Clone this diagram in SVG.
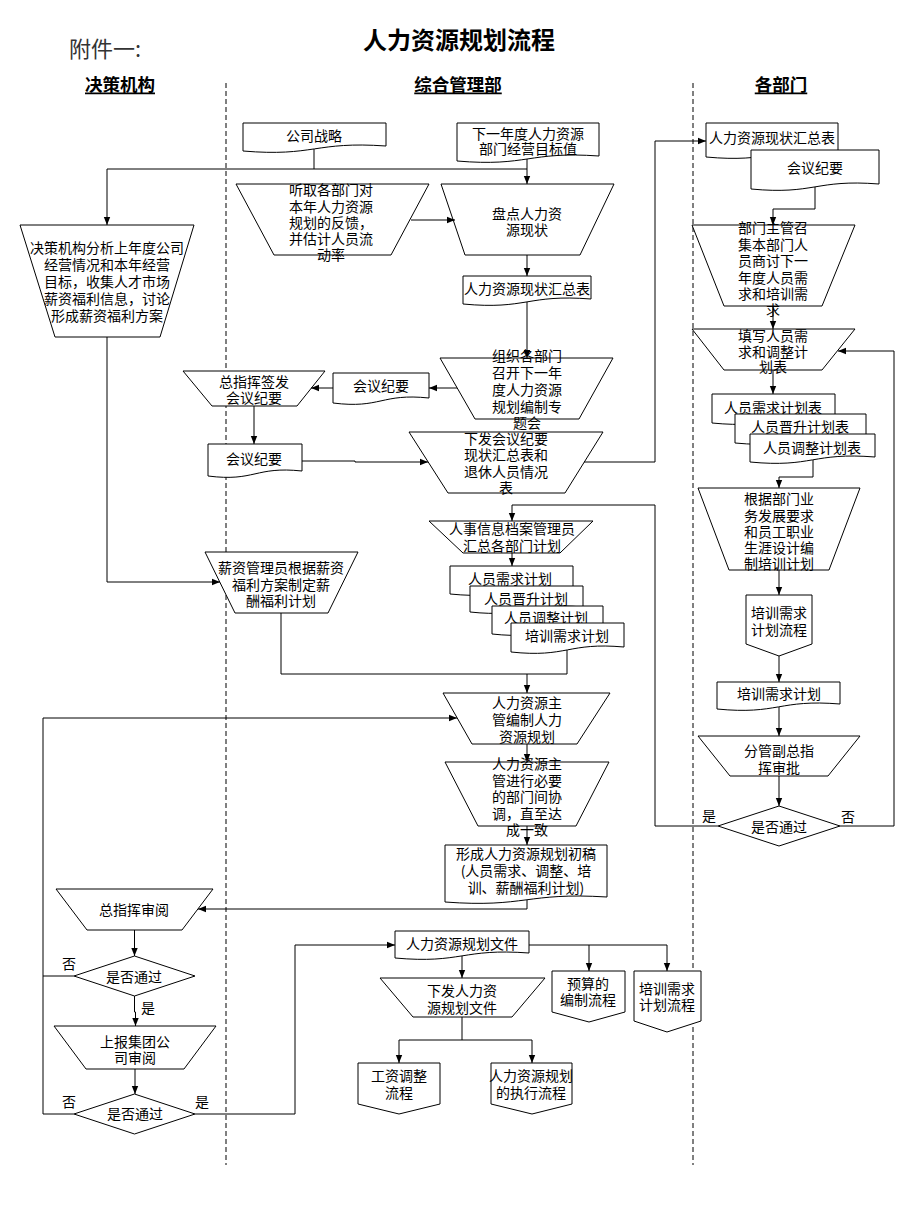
<svg xmlns="http://www.w3.org/2000/svg" width="920" height="1226" viewBox="0 0 920 1226">
<style>
.n{fill:#fff;stroke:#000;stroke-width:1}
.t{font-family:"Noto Sans CJK SC","Noto Sans",sans-serif;font-size:14px;text-anchor:middle;dominant-baseline:central;fill:#000}
.c{fill:none;stroke:#000;stroke-width:1}
.a{marker-end:url(#ah)}
.lane{fill:none;stroke:#000;stroke-width:1;stroke-dasharray:5,3}
.h{font-family:"Noto Sans CJK SC",sans-serif;font-size:17.5px;font-weight:bold;text-anchor:middle;dominant-baseline:central;text-decoration:underline}
</style>
<defs>
<marker id="ah" viewBox="0 0 10 10" refX="10" refY="5" markerWidth="8" markerHeight="8" markerUnits="userSpaceOnUse" orient="auto"><path d="M0,1 L10,5 L0,9 Z" fill="#000"/></marker>
</defs>
<rect width="920" height="1226" fill="#fff"/>
<text x="69" y="47" font-family="'Noto Sans CJK SC',sans-serif" font-size="22" fill="#333" dominant-baseline="central">附件一:</text>
<text x="459" y="38" font-family="'Noto Sans CJK SC',sans-serif" font-size="24" font-weight="bold" text-anchor="middle" dominant-baseline="central">人力资源规划流程</text>
<text class="h" x="120" y="83">决策机构</text>
<text class="h" x="458" y="83">综合管理部</text>
<text class="h" x="781" y="83">各部门</text>
<g id="lanes">
<line class="lane" x1="226" y1="83" x2="226" y2="1165"/>
<line class="lane" x1="693" y1="83" x2="693" y2="1165"/>
</g>
<g id="n1"><path class="n" d="M243,123H386V146C314.5,141 314.5,157 243,151Z"/><text class="t" x="314" y="135">公司战略</text></g>
<g id="n2"><path class="n" d="M457,123H599V156C528,151 528,167 457,161Z"/><text class="t"><tspan x="528" y="133">下一年度人力资源</tspan><tspan x="528" y="148">部门经营目标值</tspan></text></g>
<g id="n3"><polygon class="n" points="20,225 194,225 160,337 55,337"/><text class="t"><tspan x="107" y="247">决策机构分析上年度公司</tspan><tspan x="107" y="264">经营情况和本年经营</tspan><tspan x="107" y="281">目标，收集人才市场</tspan><tspan x="107" y="298">薪资福利信息，讨论</tspan><tspan x="107" y="315">形成薪资福利方案</tspan></text></g>
<g id="n4"><polygon class="n" points="236,184 429,184 391,255 274,255"/><text class="t"><tspan x="331" y="189">听取各部门对</tspan><tspan x="331" y="205.5">本年人力资源</tspan><tspan x="331" y="222">规划的反馈，</tspan><tspan x="331" y="238">并估计人员流</tspan><tspan x="331" y="254">动率</tspan></text></g>
<g id="n5"><polygon class="n" points="441,184 614,184 580,255 465,255"/><text class="t"><tspan x="527" y="213">盘点人力资</tspan><tspan x="527" y="229">源现状</tspan></text></g>
<g id="n6"><path class="n" d="M463,276H591V299C527,294 527,310 463,304Z"/><text class="t" x="527" y="288">人力资源现状汇总表</text></g>
<g id="n7"><polygon class="n" points="440,358 613,358 579,419 475,419"/><text class="t"><tspan x="527" y="355">组织各部门</tspan><tspan x="527" y="372">召开下一年</tspan><tspan x="527" y="389">度人力资源</tspan><tspan x="527" y="406">规划编制专</tspan><tspan x="527" y="422">题会</tspan></text></g>
<g id="n8"><path class="n" d="M333,373H429V398C381,393 381,409 333,403Z"/><text class="t" x="381" y="385">会议纪要</text></g>
<g id="n9"><polygon class="n" points="183,371 325,371 297,406 212,406"/><text class="t"><tspan x="254" y="381">总指挥签发</tspan><tspan x="254" y="397">会议纪要</tspan></text></g>
<g id="n10"><path class="n" d="M208,444H302V471C255,466 255,482 208,476Z"/><text class="t" x="254" y="458">会议纪要</text></g>
<g id="n11"><polygon class="n" points="409,432 603,432 565,493 448,493"/><text class="t"><tspan x="506" y="438">下发会议纪要</tspan><tspan x="506" y="454">现状汇总表和</tspan><tspan x="506" y="471">退休人员情况</tspan><tspan x="506" y="487">表</tspan></text></g>
<g id="n12"><path class="n" d="M706,123H838V152C772,147 772,163 706,157Z"/><text class="t" x="772" y="137">人力资源现状汇总表</text></g>
<g id="n13"><path class="n" d="M751,150H879V184C815,179 815,195 751,189Z"/><text class="t" x="815" y="167">会议纪要</text></g>
<g id="n14"><polygon class="n" points="692,225 855,225 822,306 724,306"/><text class="t"><tspan x="773" y="227">部门主管召</tspan><tspan x="773" y="243.5">集本部门人</tspan><tspan x="773" y="260">员商讨下一</tspan><tspan x="773" y="277">年度人员需</tspan><tspan x="773" y="293">求和培训需</tspan><tspan x="773" y="309">求</tspan></text></g>
<g id="n15"><polygon class="n" points="692,329 855,329 822,370 724,370"/><text class="t"><tspan x="773" y="335">填写人员需</tspan><tspan x="773" y="351">求和调整计</tspan><tspan x="773" y="366">划表</tspan></text></g>
<g id="n16"><path class="n" d="M712,394H835V418C773.5,413 773.5,429 712,423Z"/><text class="t" x="773" y="407">人员需求计划表</text></g>
<g id="n17"><path class="n" d="M735,414H866V438C800.5,433 800.5,449 735,443Z"/><text class="t" x="800" y="426">人员晋升计划表</text></g>
<g id="n18"><path class="n" d="M750,434H875V457C812.5,452 812.5,468 750,462Z"/><text class="t" x="812" y="447">人员调整计划表</text></g>
<g id="n19"><polygon class="n" points="698,488 860,488 829,570 729,570"/><text class="t"><tspan x="779" y="498">根据部门业</tspan><tspan x="779" y="514.5">务发展要求</tspan><tspan x="779" y="531">和员工职业</tspan><tspan x="779" y="547">生涯设计编</tspan><tspan x="779" y="563">制培训计划</tspan></text></g>
<g id="n20"><polygon class="n" points="746,595 812,595 812,644 779,656 746,644"/><text class="t"><tspan x="779" y="612">培训需求</tspan><tspan x="779" y="629">计划流程</tspan></text></g>
<g id="n21"><path class="n" d="M717,682H840V704C778.5,699 778.5,715 717,709Z"/><text class="t" x="779" y="693">培训需求计划</text></g>
<g id="n22"><polygon class="n" points="698,736 860,736 828,776 730,776"/><text class="t"><tspan x="779" y="750">分管副总指</tspan><tspan x="779" y="767">挥审批</tspan></text></g>
<g id="n23"><polygon class="n" points="779,806 840,826 779,846 718,826"/><text class="t" x="779" y="826">是否通过</text></g>
<g id="n24"><polygon class="n" points="429,521 593,521 560,553 463,553"/><text class="t"><tspan x="512" y="528">人事信息档案管理员</tspan><tspan x="512" y="545">汇总各部门计划</tspan></text></g>
<g id="n25"><path class="n" d="M450,566H573V589C511.5,584 511.5,600 450,594Z"/><text class="t" x="510" y="578">人员需求计划</text></g>
<g id="n26"><path class="n" d="M470,586H583V607C526.5,602 526.5,618 470,612Z"/><text class="t" x="526" y="598">人员晋升计划</text></g>
<g id="n27"><path class="n" d="M492,606H603V629C547.5,624 547.5,640 492,634Z"/><text class="t" x="546" y="617">人员调整计划</text></g>
<g id="n28"><path class="n" d="M511,623H624V647C567.5,642 567.5,658 511,652Z"/><text class="t" x="567" y="635">培训需求计划</text></g>
<g id="n29"><polygon class="n" points="205,552 358,552 328,613 235,613"/><text class="t"><tspan x="281" y="567">薪资管理员根据薪资</tspan><tspan x="281" y="583.5">福利方案制定薪</tspan><tspan x="281" y="600">酬福利计划</tspan></text></g>
<g id="n30"><polygon class="n" points="443,693 610,693 577,744 472,744"/><text class="t"><tspan x="527" y="702">人力资源主</tspan><tspan x="527" y="719">管编制人力</tspan><tspan x="527" y="736">资源规划</tspan></text></g>
<g id="n31"><polygon class="n" points="445,762 609,762 576,826 478,826"/><text class="t"><tspan x="527" y="763">人力资源主</tspan><tspan x="527" y="779.5">管进行必要</tspan><tspan x="527" y="796">的部门间协</tspan><tspan x="527" y="812.5">调，直至达</tspan><tspan x="527" y="829">成一致</tspan></text></g>
<g id="n32"><path class="n" d="M445,845H607V897C526,892 526,908 445,902Z"/><text class="t"><tspan x="526" y="853">形成人力资源规划初稿</tspan><tspan x="526" y="870">(人员需求、调整、培</tspan><tspan x="526" y="886.5">训、薪酬福利计划)</tspan></text></g>
<g id="n33"><polygon class="n" points="56,889 213,889 182,930 87,930"/><text class="t" x="134" y="909">总指挥审阅</text></g>
<g id="n34"><polygon class="n" points="134.5,956 195,976 134.5,996 74,976"/><text class="t" x="134" y="976">是否通过</text></g>
<g id="n35"><polygon class="n" points="54,1026 216,1026 184,1069 86,1069"/><text class="t"><tspan x="135" y="1041">上报集团公</tspan><tspan x="135" y="1057">司审阅</tspan></text></g>
<g id="n36"><polygon class="n" points="134.5,1094 195,1114 134.5,1134 74,1114"/><text class="t" x="135" y="1113">是否通过</text></g>
<g id="n37"><path class="n" d="M395,931H529V953C462,948 462,964 395,958Z"/><text class="t" x="462" y="943">人力资源规划文件</text></g>
<g id="n38"><polygon class="n" points="380,978 545,978 512,1017 413,1017"/><text class="t"><tspan x="462" y="990">下发人力资</tspan><tspan x="462" y="1007">源规划文件</tspan></text></g>
<g id="n39"><polygon class="n" points="552,971 625,971 625,1012 589,1022 552,1012"/><text class="t"><tspan x="588" y="982.5">预算的</tspan><tspan x="588" y="999">编制流程</tspan></text></g>
<g id="n40"><polygon class="n" points="634,971 701,971 701,1021 667,1032 634,1021"/><text class="t"><tspan x="667" y="988">培训需求</tspan><tspan x="667" y="1004">计划流程</tspan></text></g>
<g id="n41"><polygon class="n" points="358,1063 440,1063 440,1104 399,1114 358,1104"/><text class="t"><tspan x="399" y="1075">工资调整</tspan><tspan x="399" y="1092">流程</tspan></text></g>
<g id="n42"><polygon class="n" points="491,1063 572,1063 572,1104 532,1114 491,1104"/><text class="t"><tspan x="531" y="1075">人力资源规划</tspan><tspan x="531" y="1092">的执行流程</tspan></text></g>
<g id="connectors">
<path class="c" d="M314,149V169"/>
<path class="c" d="M107,169H527"/>
<path class="c a" d="M107,169V225"/>
<path class="c a" d="M527,159V184"/>
<path class="c a" d="M411,220H455"/>
<path class="c a" d="M527,255V276"/>
<path class="c a" d="M527,302V358"/>
<path class="c a" d="M457,388H429"/>
<path class="c a" d="M333,388H311"/>
<path class="c a" d="M254,406V444"/>
<path class="c a" d="M302,461H355V462H428"/>
<path class="c a" d="M584,462H655V141H706"/>
<path class="c a" d="M815,187V209H773V225"/>
<path class="c a" d="M773,306V329"/>
<path class="c a" d="M773,370V394"/>
<path class="c a" d="M813,460V477H779V488"/>
<path class="c a" d="M779,570V595"/>
<path class="c a" d="M779,656V682"/>
<path class="c a" d="M779,707V736"/>
<path class="c a" d="M779,776V806"/>
<path class="c a" d="M840,826H894V351H838"/>
<path class="c a" d="M718,826H655V505H512V521"/>
<path class="c a" d="M512,553V566"/>
<path class="c" d="M281,613V674H567V650"/>
<path class="c a" d="M527,674V693"/>
<path class="c a" d="M107,337V582H220"/>
<path class="c a" d="M527,744V762"/>
<path class="c a" d="M527,826V845"/>
<path class="c a" d="M527,900V909H198"/>
<path class="c a" d="M134.5,930V956"/>
<path class="c" d="M74,976H43"/>
<path class="c a" d="M43,1114V718H457"/>
<path class="c a" d="M134.5,996V1012H135.5V1026"/>
<path class="c a" d="M135,1069V1094"/>
<path class="c" d="M74,1114H43"/>
<path class="c a" d="M195,1114H295V945H395"/>
<path class="c a" d="M462,956V978"/>
<path class="c a" d="M529,945H667V971"/>
<path class="c a" d="M589,945V971"/>
<path class="c" d="M462,1017V1040M399,1040H532"/>
<path class="c a" d="M399,1040V1063"/>
<path class="c a" d="M532,1040V1063"/>
</g>
<g id="labels">
<text class="t" x="709" y="815">是</text>
<text class="t" x="848" y="816">否</text>
<text class="t" x="69" y="963">否</text>
<text class="t" x="148" y="1007">是</text>
<text class="t" x="69" y="1101">否</text>
<text class="t" x="202" y="1101">是</text>
</g>
</svg>
